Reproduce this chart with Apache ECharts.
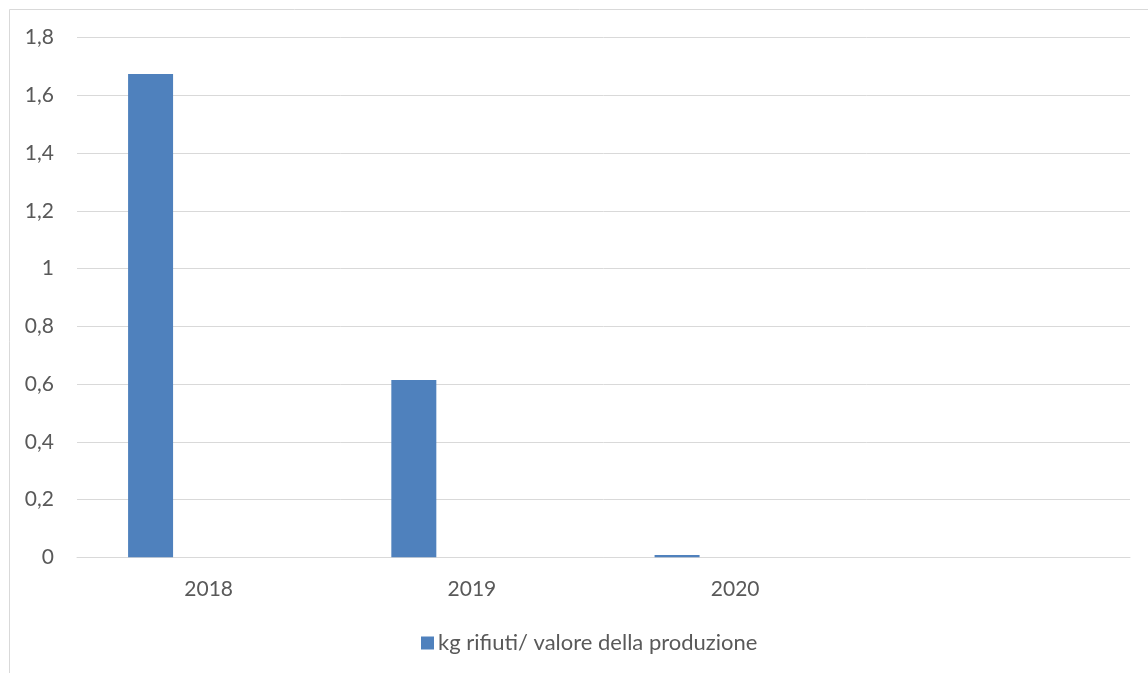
<!DOCTYPE html>
<html>
<head>
<meta charset="utf-8">
<style>
  html, body { margin: 0; padding: 0; background: #ffffff; }
  #chart { width: 1148px; height: 673px; }
</style>
<script src="https://cdn.jsdelivr.net/npm/echarts@6/dist/echarts.min.js"></script>
</head>
<body>
<div id="chart"></div>
<script>
// ---- data ----
const categories = ['2018', '2019', '2020', ''];
const seriesName = 'kg rifiuti/ valore della produzione';
const wasteValues = [1.674, 0.614, 0.008, null];
const emptySeriesValues = [null, null, null, null];
const yTicks = { min: 0, max: 1.8, interval: 0.2 };

const FONT = 'Lato, "Open Sans", sans-serif';
const TEXT = '#595959';
const GRID = '#d9d9d9';

const chart = echarts.init(document.getElementById('chart'), null, { renderer: 'canvas' });
chart.setOption({
  animation: false,
  backgroundColor: '#ffffff',
  textStyle: { fontFamily: FONT },
  graphic: [{
    type: 'rect',
    left: 7, top: 7,
    shape: { x: 0.5, y: 0.5, width: 1200, height: 720 },
    style: { fill: 'none', stroke: GRID, lineWidth: 1 },
    silent: true
  }],
  grid: { left: 77, right: 18, top: 37.6, bottom: 115.7, containLabel: false },
  legend: {
    data: [seriesName],
    left: 416, top: 626,
    icon: 'rect', itemWidth: 13, itemHeight: 13, itemGap: 10,
    textStyle: { color: TEXT, fontSize: 22, fontFamily: FONT, padding: [0, 0, 0, -1], lineHeight: 24 }
  },
  xAxis: {
    type: 'category',
    data: categories,
    axisLine: { show: true, lineStyle: { color: GRID, width: 1 } },
    axisTick: { show: false },
    axisLabel: { color: TEXT, fontSize: 21, fontFamily: FONT, margin: 21 },
    splitLine: { show: false }
  },
  yAxis: {
    type: 'value',
    min: yTicks.min, max: yTicks.max, interval: yTicks.interval,
    axisLine: { show: false },
    axisTick: { show: false },
    axisLabel: {
      color: TEXT, fontSize: 21, fontFamily: FONT, margin: 23,
      formatter: v => String(Math.round(v * 10) / 10).replace('.', ',')
    },
    splitLine: { lineStyle: { color: GRID, width: 1 } }
  },
  series: [
    {
      name: seriesName,
      type: 'bar',
      data: wasteValues,
      barWidth: 45,
      barGap: '158%',
      itemStyle: { color: '#4f81bd' }
    },
    {
      name: 'serie 2',
      type: 'bar',
      data: emptySeriesValues,
      barWidth: 45,
      itemStyle: { color: '#c0504d' }
    }
  ]
});
</script>
</body>
</html>
